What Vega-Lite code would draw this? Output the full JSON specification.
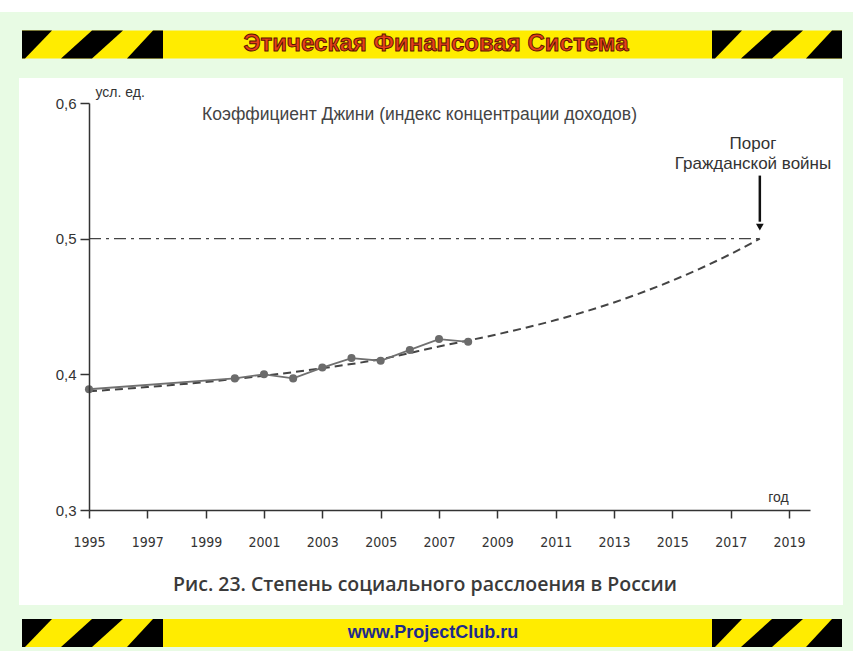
{
  "$schema": "https://vega.github.io/schema/vega-lite/v6.json",
  "width": 721,
  "height": 407,
  "autosize": {"type": "none"},
  "padding": {"left": 89, "top": 103, "right": 43, "bottom": 141},
  "background": "#e8fbe4",
  "config": {"view": {"stroke": null}, "axis": {"grid": false}, "font": "Liberation Sans"},
  "datasets": {
    "gini": [
      {"year": 1995, "gini": 0.389},
      {"year": 2000, "gini": 0.397},
      {"year": 2001, "gini": 0.400},
      {"year": 2002, "gini": 0.397},
      {"year": 2003, "gini": 0.405},
      {"year": 2004, "gini": 0.412},
      {"year": 2005, "gini": 0.410},
      {"year": 2006, "gini": 0.418},
      {"year": 2007, "gini": 0.426},
      {"year": 2008, "gini": 0.424}
    ],
    "trend": [
      {"year": 1995, "gini": 0.3875},
      {"year": 1997, "gini": 0.3906},
      {"year": 1999, "gini": 0.3944},
      {"year": 2001, "gini": 0.3990},
      {"year": 2003, "gini": 0.4045},
      {"year": 2005, "gini": 0.4112},
      {"year": 2007, "gini": 0.4205},
      {"year": 2009, "gini": 0.4295},
      {"year": 2011, "gini": 0.4400},
      {"year": 2013, "gini": 0.4530},
      {"year": 2015, "gini": 0.4691},
      {"year": 2017, "gini": 0.4887},
      {"year": 2018, "gini": 0.5000}
    ],
    "threshold": [
      {"year": 1995, "gini": 0.5},
      {"year": 2018, "gini": 0.5}
    ],
    "stripes": [
      {"piece": "lc", "at": 1992.703},
      {"piece": "full", "at": 1995.103},
      {"piece": "rc", "at": 1997.537},
      {"piece": "lc", "at": 2016.360},
      {"piece": "full", "at": 2018.417},
      {"piece": "rc", "at": 2020.817}
    ],
    "frame": [{"part": "panel"}]
  },
  "layer": [
    {
      "data": {"name": "frame"},
      "mark": {"type": "rect", "fill": "#ffffff"},
      "encoding": {
        "x": {"datum": 1992.6},
        "x2": {"datum": 2020.851},
        "y": {"datum": 0.61843},
        "y2": {"datum": 0.22998}
      }
    },
    {
      "data": {"name": "frame"},
      "mark": {"type": "rect", "fill": "#ffffff"},
      "encoding": {
        "x": {"datum": 1991.9},
        "x2": {"datum": 2021.3},
        "y": {"datum": 0.6759},
        "y2": {"datum": 0.66708}
      }
    },
    {
      "data": {"name": "frame"},
      "mark": {"type": "rect", "fill": "#ffec00"},
      "encoding": {
        "x": {"datum": 1992.703},
        "x2": {"datum": 2020.817},
        "y": {"datum": 0.65344},
        "y2": {"datum": 0.6328}
      }
    },
    {
      "data": {"name": "frame"},
      "mark": {"type": "rect", "fill": "#ffec00"},
      "encoding": {
        "x": {"datum": 1992.703},
        "x2": {"datum": 2020.817},
        "y": {"datum": 0.21966},
        "y2": {"datum": 0.19902}
      }
    },
    {
      "data": {"name": "stripes"},
      "mark": {"type": "point", "filled": true, "fill": "#000000", "opacity": 1, "strokeWidth": 0, "size": 784},
      "encoding": {
        "x": {"field": "at", "type": "quantitative"},
        "y": {"datum": 0.64312},
        "shape": {"field": "piece", "type": "nominal", "legend": null,
          "scale": {"domain": ["lc", "full", "rc"], "range": ["M0,1L0,-1L2.143,-1L0.214,1Z", "M-2.214,1L0,1L2.214,-1L0,-1Z", "M0,-1L0,1L-2.571,1L-0.714,-1Z"]}}
      }
    },
    {
      "data": {"name": "stripes"},
      "mark": {"type": "point", "filled": true, "fill": "#000000", "opacity": 1, "strokeWidth": 0, "size": 784},
      "encoding": {
        "x": {"field": "at", "type": "quantitative"},
        "y": {"datum": 0.20934},
        "shape": {"field": "piece", "type": "nominal", "legend": null,
          "scale": {"domain": ["lc", "full", "rc"], "range": ["M0,1L0,-1L2.143,-1L0.214,1Z", "M-2.214,1L0,1L2.214,-1L0,-1Z", "M0,-1L0,1L-2.571,1L-0.714,-1Z"]}}
      }
    },
    {
      "data": {"values": [{"label": "Этическая Финансовая Система"}]},
      "mark": {"type": "text", "font": "Liberation Sans", "fontWeight": "bold", "fontSize": 24, "fill": "#e6401a", "stroke": "#5a1000", "strokeWidth": 0.9, "align": "center", "baseline": "middle"},
      "encoding": {
        "text": {"field": "label"},
        "x": {"datum": 2006.897},
        "y": {"datum": 0.6436}
      }
    },
    {
      "data": {"values": [{"label": "www.ProjectClub.ru"}]},
      "mark": {"type": "text", "font": "Liberation Sans", "fontWeight": "bold", "fontSize": 18, "fill": "#1e2a8c", "align": "center", "baseline": "middle"},
      "encoding": {
        "text": {"field": "label"},
        "x": {"datum": 2006.794},
        "y": {"datum": 0.2093}
      }
    },
    {
      "data": {"values": [{"label": "Рис. 23. Степень социального расслоения в России"}]},
      "mark": {"type": "text", "font": "Open Sans", "fontWeight": 600, "fontSize": 19.5, "fill": "#3a3a3a", "align": "center", "baseline": "middle"},
      "encoding": {
        "text": {"field": "label"},
        "x": {"datum": 2006.52},
        "y": {"datum": 0.24472}
      }
    },
    {
      "data": {"name": "threshold"},
      "mark": {"type": "line", "color": "#444444", "strokeWidth": 1.3, "strokeDash": [12, 5, 3, 5]},
      "encoding": {
        "x": {"field": "year", "type": "quantitative"},
        "y": {"field": "gini", "type": "quantitative"}
      }
    },
    {
      "data": {"name": "trend"},
      "mark": {"type": "line", "color": "#444444", "strokeWidth": 2, "strokeDash": [8, 5], "interpolate": "monotone"},
      "encoding": {
        "x": {"field": "year", "type": "quantitative"},
        "y": {"field": "gini", "type": "quantitative"}
      }
    },
    {
      "data": {"name": "gini"},
      "mark": {"type": "line", "color": "#707070", "strokeWidth": 1.8},
      "encoding": {
        "x": {"field": "year", "type": "quantitative",
          "scale": {"domain": [1995, 2019.72], "nice": false, "zero": false},
          "axis": {"zindex": 1, "values": [1995, 1997, 1999, 2001, 2003, 2005, 2007, 2009, 2011, 2013, 2015, 2017, 2019], "format": "d",
            "labelFlush": false, "labelOverlap": false,
            "labelFont": "DejaVu Sans Condensed, Liberation Sans", "labelFontSize": 14, "labelColor": "#333333", "labelPadding": 17,
            "tickSize": 8, "tickWidth": 1.5, "tickColor": "#333333", "domainColor": "#333333", "domainWidth": 1.5,
            "title": "год", "titleFont": "Liberation Sans", "titleFontSize": 14, "titleFontWeight": "normal", "titleColor": "#333333",
            "titleAngle": 0, "titleX": 689, "titleY": -13, "titleAlign": "center", "titleBaseline": "middle"}},
        "y": {"field": "gini", "type": "quantitative",
          "scale": {"domain": [0.3, 0.6], "nice": false, "zero": false},
          "axis": {"zindex": 1, "values": [0.3, 0.4, 0.5, 0.6], "labelExpr": "replace(format(datum.value, '.1f'), '.', ',')",
            "labelFlush": false,
            "labelFont": "Liberation Sans", "labelFontSize": 15, "labelColor": "#333333", "labelPadding": 4,
            "tickSize": 9, "tickWidth": 1.5, "tickColor": "#333333", "domainColor": "#333333", "domainWidth": 1.5,
            "title": "усл. ед.", "titleFont": "Liberation Sans", "titleFontSize": 14, "titleFontWeight": "normal", "titleColor": "#333333",
            "titleAngle": 0, "titleX": 6, "titleY": -11, "titleAlign": "left", "titleBaseline": "middle"}}
      }
    },
    {
      "data": {"name": "gini"},
      "mark": {"type": "point", "filled": true, "color": "#6b6b6b", "opacity": 1, "size": 65},
      "encoding": {
        "x": {"field": "year", "type": "quantitative"},
        "y": {"field": "gini", "type": "quantitative"}
      }
    },
    {
      "data": {"values": [{"label": "Коэффициент Джини (индекс концентрации доходов)"}]},
      "mark": {"type": "text", "font": "Liberation Sans", "fontSize": 17.5, "fill": "#444444", "align": "center", "baseline": "middle"},
      "encoding": {
        "text": {"field": "label"},
        "x": {"datum": 2006.331},
        "y": {"datum": 0.59115}
      }
    },
    {
      "data": {"values": [{"label": "Порог\nГражданской войны"}]},
      "mark": {"type": "text", "lineBreak": "\n", "lineHeight": 20, "font": "Liberation Sans", "fontSize": 17, "fill": "#333333", "align": "center", "baseline": "top"},
      "encoding": {
        "text": {"field": "label"},
        "x": {"datum": 2017.765},
        "y": {"datum": 0.5757}
      }
    },
    {
      "data": {"name": "frame"},
      "mark": {"type": "rule", "color": "#111111", "strokeWidth": 2.5},
      "encoding": {
        "x": {"datum": 2018},
        "y": {"datum": 0.5465},
        "y2": {"datum": 0.5125}
      }
    },
    {
      "data": {"name": "frame"},
      "mark": {"type": "point", "shape": "triangle-down", "filled": true, "color": "#111111", "opacity": 1, "size": 60},
      "encoding": {
        "x": {"datum": 2018},
        "y": {"datum": 0.5085}
      }
    }
  ]
}
